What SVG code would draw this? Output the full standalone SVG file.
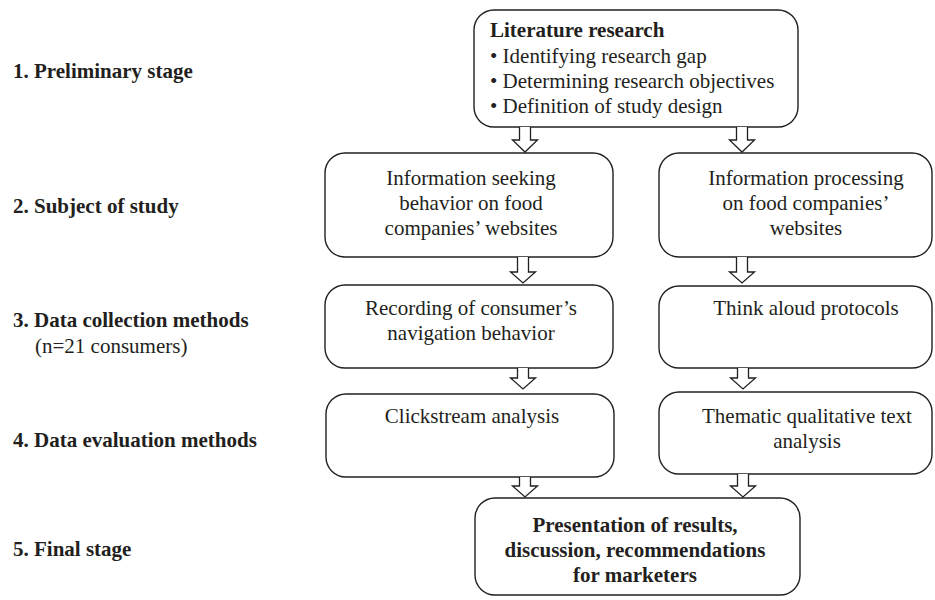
<svg xmlns="http://www.w3.org/2000/svg" width="935" height="600" viewBox="0 0 935 600">
<style>
  text { font-family: "Liberation Serif", "Times New Roman", serif; font-size: 21px; fill: #231f20; }
  .b { font-weight: bold; }
  .c { text-anchor: middle; }
  .box { fill: #ffffff; stroke: #231f20; stroke-width: 1.4; }
  .arr { fill: #ffffff; stroke: #231f20; stroke-width: 1.3; stroke-linejoin: miter; }
</style>
<rect width="935" height="600" fill="#ffffff"/>
<g id="stage-labels">
  <text class="b" x="13" y="78">1. Preliminary stage</text>
  <text class="b" x="13" y="213">2. Subject of study</text>
  <text class="b" x="13" y="327">3. Data collection methods</text>
  <text x="35" y="353">(n=21 consumers)</text>
  <text class="b" x="13" y="447">4. Data evaluation methods</text>
  <text class="b" x="13" y="556">5. Final stage</text>
</g>
<g id="literature">
  <rect class="box" x="474" y="10" width="324" height="117" rx="20"/>
  <text class="b" x="490" y="37">Literature research</text>
  <text x="490" y="63">• Identifying research gap</text>
  <text x="490" y="88">• Determining research objectives</text>
  <text x="490" y="113">• Definition of study design</text>
</g>
<g id="seeking">
  <rect class="box" x="325" y="153" width="288" height="104" rx="20"/>
  <text class="c" x="471" y="185">Information seeking</text>
  <text class="c" x="471" y="210">behavior on food</text>
  <text class="c" x="471" y="235">companies’ websites</text>
</g>
<g id="processing">
  <rect class="box" x="659" y="153" width="273" height="104" rx="20"/>
  <text class="c" x="806" y="185">Information processing</text>
  <text class="c" x="806" y="210">on food companies’</text>
  <text class="c" x="806" y="235">websites</text>
</g>
<g id="recording">
  <rect class="box" x="325" y="285" width="288" height="83" rx="20"/>
  <text class="c" x="471" y="315">Recording of consumer’s</text>
  <text class="c" x="471" y="340">navigation behavior</text>
</g>
<g id="thinkaloud">
  <rect class="box" x="659" y="286" width="273" height="82" rx="20"/>
  <text class="c" x="806" y="315">Think aloud protocols</text>
</g>
<g id="clickstream">
  <rect class="box" x="326" y="394" width="288" height="83" rx="20"/>
  <text class="c" x="472" y="423">Clickstream analysis</text>
</g>
<g id="thematic">
  <rect class="box" x="659" y="392" width="273" height="82" rx="20"/>
  <text class="c" x="807" y="423">Thematic qualitative text</text>
  <text class="c" x="807" y="448">analysis</text>
</g>
<g id="final">
  <rect class="box" x="475" y="498" width="325" height="97" rx="20"/>
  <text class="b c" x="635" y="532">Presentation of results,</text>
  <text class="b c" x="635" y="557">discussion, recommendations</text>
  <text class="b c" x="635" y="582">for marketers</text>
</g>
<g id="connectors">
  <path class="arr" d="M519.5,127 V140 H512.5 L525,152 L537.5,140 H530.5 V127"/>
  <path class="arr" d="M736.5,127 V140 H729.5 L742,152 L754.5,140 H747.5 V127"/>
  <path class="arr" d="M517.5,257 V272 H510.5 L523,283 L535.5,272 H528.5 V257"/>
  <path class="arr" d="M736.5,257 V272 H729.5 L742,283 L754.5,272 H747.5 V257"/>
  <path class="arr" d="M517.5,368 V378 H510.5 L523,389 L535.5,378 H528.5 V368"/>
  <path class="arr" d="M737.5,368 V378 H730.5 L743,389 L755.5,378 H748.5 V368"/>
  <path class="arr" d="M519.5,477 V486 H512.5 L525,497 L537.5,486 H530.5 V477"/>
  <path class="arr" d="M737.5,474 V486 H730.5 L743,497 L755.5,486 H748.5 V474"/>
</g>
</svg>
